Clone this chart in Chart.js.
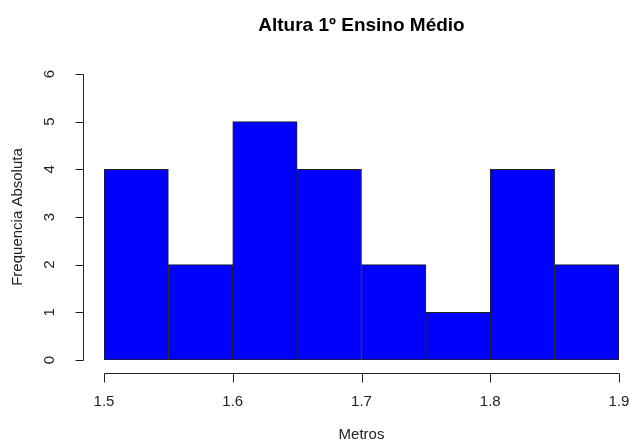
<!DOCTYPE html>
<html lang="pt">
<head>
  <meta charset="UTF-8">
  <title>Altura 1º Ensino Médio</title>
  <script src="https://cdn.jsdelivr.net/npm/chart.js"></script>
  <style>
    html, body {
      margin: 0;
      padding: 0;
      background: white;
    }
    #wrap {
      width: 630px;
      height: 445px;
    }
  </style>
</head>
<body>
  <div id="wrap"><canvas id="hist"></canvas></div>

  <script>
    const bins = ["1.50-1.55", "1.55-1.60", "1.60-1.65", "1.65-1.70", "1.70-1.75", "1.75-1.80", "1.80-1.85", "1.85-1.90"];
    const freq = [4, 2, 5, 4, 2, 1, 4, 2];
    const xTicks = [1.5, 1.6, 1.7, 1.8, 1.9];
    const yTicks = [0, 1, 2, 3, 4, 5, 6];

    const titleText = "Altura 1º Ensino Médio";
    const xTitle = "Metros";
    const yTitle = "Frequencia Absoluta";

    // R style axes, drawn off the plot region
    const rAxes = {
      id: "rAxes",
      afterDraw(chart) {
        const c = chart.ctx;
        const xs = chart.scales.xv;
        const ys = chart.scales.y;
        const area = chart.chartArea;
        c.save();
        c.strokeStyle = "#222";
        c.lineWidth = 1;
        c.fillStyle = "#222";
        c.font = "15px 'Liberation Sans', Arial, sans-serif";

        // y axis
        const ax = Math.round(area.left - 21) + 0.5;
        c.beginPath();
        c.moveTo(ax, Math.round(ys.getPixelForValue(yTicks[0])) + 0.5);
        c.lineTo(ax, Math.round(ys.getPixelForValue(yTicks[yTicks.length - 1])) + 0.5);
        yTicks.forEach(v => {
          const py = Math.round(ys.getPixelForValue(v)) + 0.5;
          c.moveTo(ax, py);
          c.lineTo(ax - 8, py);
        });
        c.stroke();
        c.textAlign = "center";
        c.textBaseline = "middle";
        yTicks.forEach(v => {
          c.save();
          c.translate(50, ys.getPixelForValue(v));
          c.rotate(-Math.PI / 2);
          c.fillText(String(v), 0, 0);
          c.restore();
        });

        // x axis
        const ay = Math.round(area.bottom + 13) + 0.5;
        c.beginPath();
        c.moveTo(Math.round(xs.getPixelForValue(xTicks[0])) + 0.5, ay);
        c.lineTo(Math.round(xs.getPixelForValue(xTicks[xTicks.length - 1])) + 0.5, ay);
        xTicks.forEach(v => {
          const px = Math.round(xs.getPixelForValue(v)) + 0.5;
          c.moveTo(px, ay);
          c.lineTo(px, ay + 9);
        });
        c.stroke();
        xTicks.forEach(v => {
          c.fillText(v.toFixed(1), xs.getPixelForValue(v), 402);
        });

        // axis titles
        c.fillText(xTitle, (area.left + area.right) / 2, 435);
        c.save();
        c.translate(18, (ys.getPixelForValue(0) + ys.getPixelForValue(6)) / 2);
        c.rotate(-Math.PI / 2);
        c.fillText(yTitle, 0, 0);
        c.restore();

        // main title
        c.fillStyle = "#000";
        c.font = "bold 19px 'Liberation Sans', Arial, sans-serif";
        c.fillText(titleText, (area.left + area.right) / 2, 26);
        c.restore();
      }
    };

    const ctx = document.getElementById("hist").getContext("2d");
    const chart = new Chart(ctx, {
      type: "bar",
      data: {
        labels: bins,
        datasets: [{
          label: yTitle,
          data: freq,
          backgroundColor: "#0000ff",
          borderColor: "#222",
          borderWidth: 1,
          borderSkipped: false,
          barPercentage: 1,
          categoryPercentage: 1
        }]
      },
      options: {
        responsive: true,
        maintainAspectRatio: false,
        animation: false,
        layout: {
          padding: { left: 104, right: 11, top: 74, bottom: 85 }
        },
        plugins: {
          legend: { display: false },
          title: { display: false },
          tooltip: { enabled: false }
        },
        scales: {
          x: {
            type: "category",
            offset: true,
            display: false
          },
          xv: {
            type: "linear",
            position: "bottom",
            offset: false,
            min: xTicks[0],
            max: xTicks[xTicks.length - 1],
            display: false
          },
          y: {
            min: yTicks[0],
            max: yTicks[yTicks.length - 1],
            display: false
          }
        }
      },
      plugins: [rAxes]
    });
  </script>
</body>
</html>
